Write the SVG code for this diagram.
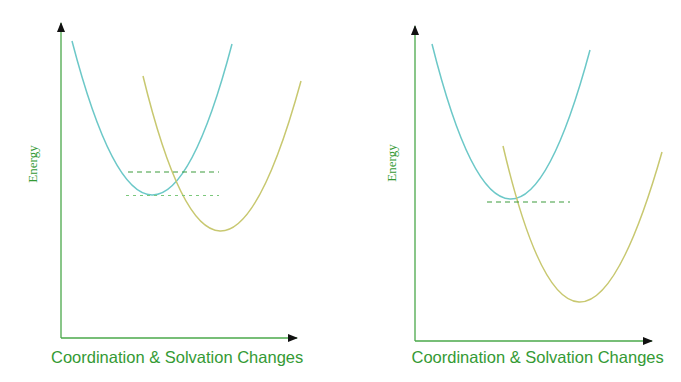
<svg xmlns="http://www.w3.org/2000/svg" width="681" height="382" viewBox="0 0 681 382">
<defs>
<style>
.axis{stroke:#4aa84a;stroke-width:1.3;fill:none}
.blue{stroke:#6cc8c8;stroke-width:1.5;fill:none}
.yel{stroke:#c8c870;stroke-width:1.5;fill:none}
.dash1{stroke:#3c9c3c;stroke-width:1.2;stroke-dasharray:5 4;fill:none}
.dash2{stroke:#7cc87c;stroke-width:1;stroke-dasharray:3 4;fill:none}
.lbl{font-family:"Liberation Sans",Arial,sans-serif;font-size:16.5px;fill:#349a34}
.en{font-family:"Liberation Serif","Times New Roman",serif;font-size:13px;fill:#349a34}
</style>
<marker id="ah" viewBox="0 0 10 8" refX="9" refY="4" markerWidth="10" markerHeight="8" markerUnits="userSpaceOnUse" orient="auto">
<path d="M0,0 L10,4 L0,8 Z" fill="#111"/>
</marker>
</defs>
<g id="left-panel">
<g id="left-axes">
<path class="axis" d="M61,338 L61,23" marker-end="url(#ah)"/>
<path class="axis" d="M61,338 L297,338" marker-end="url(#ah)"/>
</g>
<g id="left-curves">
<path class="blue" d="M72,41 Q152,347.5 232,44"/>
<path class="yel" d="M143,76 Q218,383.5 301,81"/>
<line class="dash1" x1="128" y1="172" x2="219" y2="172"/>
<line class="dash2" x1="126" y1="195.5" x2="219" y2="195.5"/>
</g>
<text class="en" transform="translate(37,164) rotate(-90)" text-anchor="middle">Energy</text>
<text class="lbl" x="51" y="363">Coordination &amp; Solvation Changes</text>
</g>
<g id="right-panel">
<g id="right-axes">
<path class="axis" d="M415,341 L415,26" marker-end="url(#ah)"/>
<path class="axis" d="M415,341 L652,341" marker-end="url(#ah)"/>
</g>
<g id="right-curves">
<path class="blue" d="M432,44 Q509,351 590,50"/>
<path class="yel" d="M503,146 Q575.5,455 662,152"/>
<line class="dash1" x1="487" y1="202" x2="570" y2="202"/>
</g>
<text class="en" transform="translate(396,163) rotate(-90)" text-anchor="middle">Energy</text>
<text class="lbl" x="411.5" y="363">Coordination &amp; Solvation Changes</text>
</g>
</svg>
